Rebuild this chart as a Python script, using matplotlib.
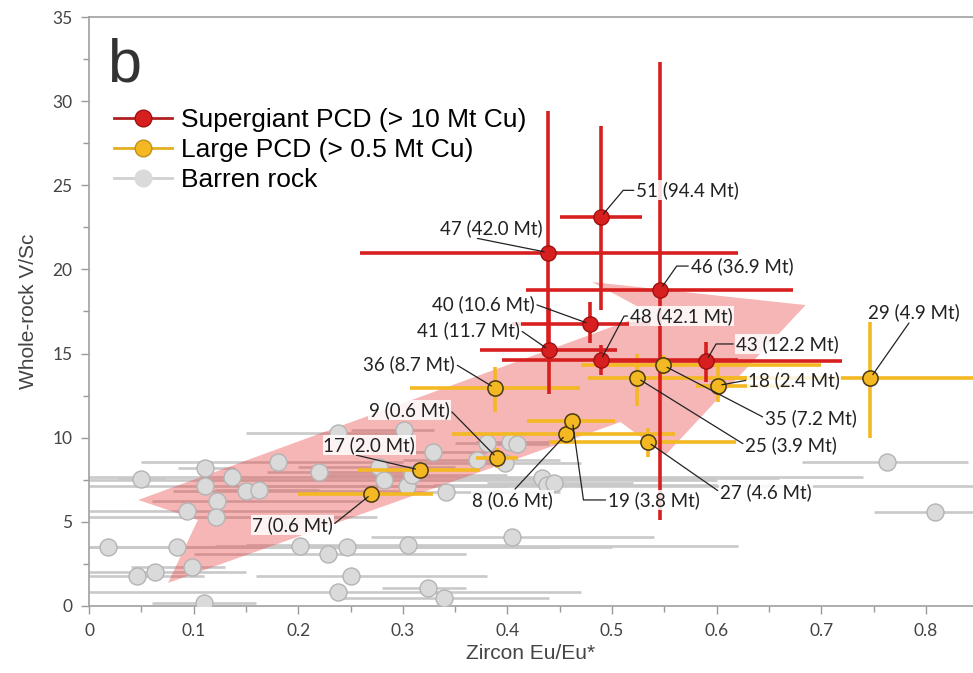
import matplotlib
matplotlib.use("Agg")
import matplotlib.pyplot as plt
from matplotlib.lines import Line2D
from matplotlib.patches import Polygon
import numpy as np

# supergiant PCD (> 10 Mt Cu)
red_id = ["51", "47", "46", "40", "41", "48", "43"]
red_mt = [94.4, 42.0, 36.9, 10.6, 11.7, 42.1, 12.2]
red_x = [0.489, 0.439, 0.546, 0.479, 0.440, 0.489, 0.590]
red_y = [23.1, 21.0, 18.8, 16.75, 15.2, 14.6, 14.56]
red_xlo = [0.450, 0.259, 0.418, 0.404, 0.374, 0.395, 0.490]
red_xhi = [0.529, 0.620, 0.673, 0.536, 0.505, 0.620, 0.720]
red_ylo = [17.6, 15.0, 5.1, 15.6, 12.6, 13.7, 13.3]
red_yhi = [28.5, 29.4, 32.3, 18.06, 17.7, 15.5, 15.7]

# large PCD (> 0.5 Mt Cu)
yel_id = ["36", "9", "17", "7", "8", "19", "25", "35", "18", "27", "29"]
yel_mt = [8.7, 0.6, 2.0, 0.6, 0.6, 3.8, 3.9, 7.2, 2.4, 4.6, 4.9]
yel_x = [0.388, 0.390, 0.316, 0.270, 0.456, 0.462, 0.524, 0.549, 0.601, 0.534, 0.747]
yel_y = [12.95, 8.8, 8.08, 6.65, 10.2, 11.0, 13.55, 14.3, 13.1, 9.75, 13.55]
yel_xlo = [0.307, 0.370, 0.257, 0.200, 0.347, 0.419, 0.477, 0.470, 0.580, 0.440, 0.600]
yel_xhi = [0.469, 0.410, 0.374, 0.329, 0.560, 0.503, 0.645, 0.700, 0.670, 0.618, 0.900]
yel_ylo = [11.5, 8.2, 8.08, 6.65, 9.6, 11.0, 11.9, 13.7, 12.1, 8.85, 10.0]
yel_yhi = [14.2, 9.4, 8.08, 6.65, 10.8, 11.0, 15.0, 14.9, 14.3, 10.6, 16.9]

# barren rock
gr_x = [0.181, 0.111, 0.050, 0.137, 0.111, 0.150, 0.162, 0.122, 0.094, 0.121, 0.018,
        0.084, 0.202, 0.046, 0.063, 0.098, 0.110, 0.220, 0.238, 0.301, 0.277, 0.282,
        0.304, 0.309, 0.329, 0.341, 0.371, 0.380, 0.402, 0.409, 0.398, 0.433, 0.438,
        0.444, 0.404, 0.305, 0.228, 0.247, 0.250, 0.238, 0.324, 0.339, 0.763, 0.809]
gr_y = [8.56, 8.2, 7.55, 7.67, 7.13, 6.83, 6.9, 6.24, 5.65, 5.29, 3.5,
        3.5, 3.57, 1.8, 2.0, 2.3, 0.18, 7.96, 10.3, 10.45, 8.27, 7.5,
        7.1, 7.8, 9.15, 6.78, 8.67, 9.7, 9.75, 9.6, 8.5, 7.6, 7.2,
        7.3, 4.1, 3.6, 3.1, 3.5, 1.8, 0.83, 1.07, 0.47, 8.56, 5.58]
gr_xlo = [0.05, 0.085, 0.028, 0.0, 0.0, 0.08, 0.12, 0.06, 0.0, 0.0, 0.0,
          0.0, 0.12, 0.0, 0.0, 0.04, 0.06, 0.17, 0.15, 0.25, 0.20, 0.0,
          0.15, 0.22, 0.27, 0.28, 0.30, 0.35, 0.37, 0.38, 0.32, 0.35, 0.33,
          0.38, 0.27, 0.15, 0.10, 0.0, 0.16, 0.0, 0.28, 0.24, 0.682, 0.75]
gr_xhi = [0.30, 0.14, 0.073, 0.74, 0.85, 0.30, 0.22, 0.26, 0.25, 0.275, 0.45,
          0.20, 0.62, 0.11, 0.15, 0.13, 0.16, 0.30, 0.30, 0.33, 0.35, 0.60,
          0.40, 0.40, 0.38, 0.45, 0.45, 0.43, 0.44, 0.44, 0.47, 0.66, 0.60,
          0.52, 0.54, 0.41, 0.36, 0.50, 0.38, 0.47, 0.36, 0.44, 0.84, 0.85]

# trend arrow outline (Eu/Eu*, V/Sc)
arrow_x = [0.047, 0.104, 0.0755, 0.508, 0.551, 0.685, 0.481, 0.536]
arrow_y = [6.30, 5.11, 1.37, 10.93, 8.97, 17.88, 19.25, 17.41]

# label placement: text position, alignment, elbow angle at point (None = straight)
red_lab = {
    "51": (0.523, 24.7, "left", 50),
    "47": (0.385, 22.45, "center", None),
    "46": (0.575, 20.2, "left", 55),
    "40": (0.426, 17.94, "right", None),
    "41": (0.412, 16.4, "right", None),
    "48": (0.517, 17.23, "left", 62),
    "43": (0.618, 15.57, "left", 60),
}
yel_lab = {
    "36": (0.350, 14.38, "right", None),
    "9": (0.345, 11.65, "right", None),
    "17": (0.268, 9.57, "center", None),
    "7": (0.233, 4.81, "right", None),
    "8": (0.405, 6.3, "center", None),
    "19": (0.496, 6.3, "left", 98),
    "25": (0.627, 9.57, "left", None),
    "35": (0.646, 11.17, "left", None),
    "18": (0.630, 13.43, "left", None),
    "27": (0.603, 6.77, "left", None),
    "29": (0.745, 17.47, "left", 55),
}

RED = "#d81f1f"
RED_EDGE = "#a01010"
YEL = "#f4b822"
YEL_EDGE = "#4a3a10"
GR_LINE = "#c9c9c9"
GR_FILL = "#dadada"
GR_EDGE = "#b4b4b4"

fig = plt.figure(figsize=(9.73, 6.73), dpi=100)
ax = fig.add_axes([0.0915, 0.0996, 0.9085, 0.8751])


def bars(x, y, xlo, xhi, ylo, yhi, color, lw, z):
    x = np.asarray(x)
    y = np.asarray(y)
    xerr = [x - np.asarray(xlo), np.asarray(xhi) - x]
    if ylo is None:
        yerr = None
    else:
        yerr = [y - np.asarray(ylo), np.asarray(yhi) - y]
    ax.errorbar(x, y, xerr=xerr, yerr=yerr, fmt="none", ecolor=color,
                elinewidth=lw, capsize=0, zorder=z)


# barren rock
bars(gr_x, gr_y, gr_xlo, gr_xhi, None, None, GR_LINE, 1.9, 2)

# pink trend arrow
ax.add_patch(Polygon(np.column_stack([arrow_x, arrow_y]), closed=True,
                     facecolor="#e8403f", alpha=0.38, edgecolor="none", zorder=2.5))

ax.scatter(gr_x, gr_y, s=150, color=GR_FILL, edgecolors=GR_EDGE, linewidths=1.0, zorder=3)

bars(yel_x, yel_y, yel_xlo, yel_xhi, yel_ylo, yel_yhi, YEL, 2.6, 4)
bars(red_x, red_y, red_xlo, red_xhi, red_ylo, red_yhi, RED, 2.6, 5)

ax.scatter(yel_x, yel_y, s=120, color=YEL, edgecolors=YEL_EDGE, linewidths=1.1, zorder=6)
ax.scatter(red_x, red_y, s=120, color=RED, edgecolors=RED_EDGE, linewidths=1.0, zorder=7)


def label(ids, mts, xs, ys, places):
    for i, m, px, py in zip(ids, mts, xs, ys):
        tx, ty, ha, ang = places[i]
        rel = {"left": (0, 0.5), "right": (1, 0.5), "center": (0.3, 0)}[ha]
        if ang is None:
            cs = "arc3,rad=0"
        else:
            cs = "angle,angleA=0,angleB=%d,rad=0" % ang
        ax.annotate("%s (%.1f Mt)" % (i, m), xy=(px, py), xytext=(tx, ty),
                    ha=ha, va="center", fontsize=13.5, family="Lato", color="#222222",
                    bbox=dict(boxstyle="square,pad=0.05", fc="white", ec="none", alpha=0.85),
                    arrowprops=dict(arrowstyle="-", color="#222222", lw=0.9,
                                    shrinkA=1, shrinkB=3, relpos=rel, connectionstyle=cs),
                    zorder=8)


label(red_id, red_mt, red_x, red_y, red_lab)
label(yel_id, yel_mt, yel_x, yel_y, yel_lab)

ax.set_xlim(0, 0.845)
ax.set_ylim(0, 35)
ax.set_xticks(np.arange(0, 0.81, 0.1))
ax.set_xticklabels(["0", "0.1", "0.2", "0.3", "0.4", "0.5", "0.6", "0.7", "0.8"])
ax.set_xticks(np.arange(0.05, 0.85, 0.1), minor=True)
ax.set_yticks(np.arange(0, 36, 5))
ax.set_yticks(np.arange(2.5, 35, 5), minor=True)
ax.tick_params(which="both", direction="out", color="#999999", width=1)
ax.tick_params(which="major", length=6, labelsize=12.5, labelcolor="#444444", pad=6)
ax.tick_params(which="minor", length=4)
for lab in ax.get_xticklabels() + ax.get_yticklabels():
    lab.set_family("Lato")
for side in ["left", "bottom", "top"]:
    ax.spines[side].set_color("#a0a0a0")
    ax.spines[side].set_linewidth(1.2)
ax.spines["right"].set_visible(False)

ax.set_xlabel("Zircon Eu/Eu*", fontsize=15, color="#444444", family="Liberation Sans", labelpad=4)
ax.set_ylabel("Whole-rock V/Sc", fontsize=15, color="#444444", family="Liberation Sans", labelpad=10)

ax.text(0.02, 0.965, "b", transform=ax.transAxes, fontsize=44, family="Liberation Sans",
        color="#333333", va="top", ha="left")

handles = [
    Line2D([], [], color="#b02020", lw=2, marker="o", ms=12, mfc=RED, mec=RED_EDGE),
    Line2D([], [], color="#e0b020", lw=2, marker="o", ms=12, mfc=YEL, mec="#c09020"),
    Line2D([], [], color="#d0d0d0", lw=2, marker="o", ms=12, mfc=GR_FILL, mec=GR_FILL),
]
ax.legend(handles, ["Supergiant PCD (> 10 Mt Cu)", "Large PCD (> 0.5 Mt Cu)", "Barren rock"],
          loc="upper left", bbox_to_anchor=(0.016, 0.863), frameon=False,
          prop={"family": "Liberation Sans", "size": 19}, handlelength=2.2,
          handletextpad=0.35, labelspacing=0.22, borderaxespad=0)

fig.savefig("out.png", dpi=100)
